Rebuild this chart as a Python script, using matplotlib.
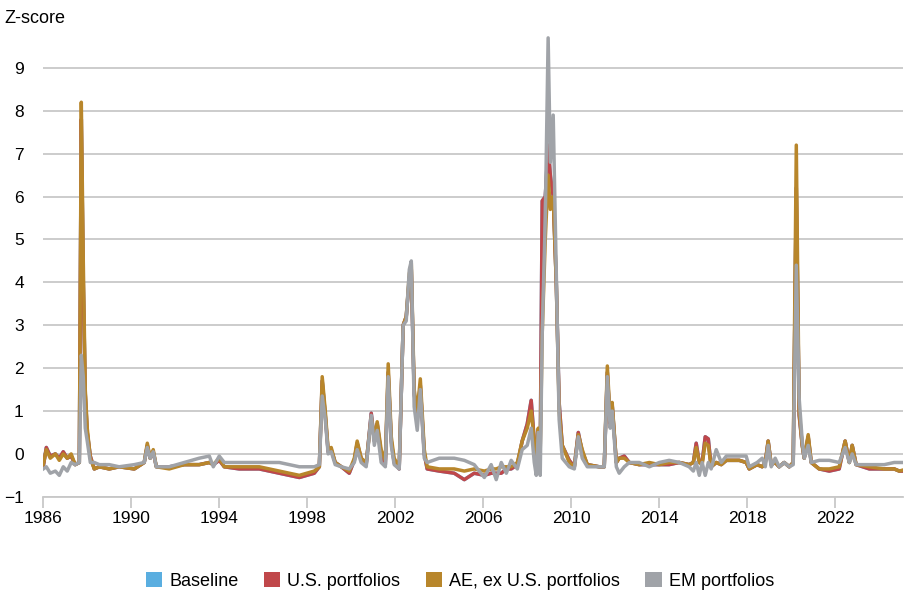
import matplotlib.pyplot as plt
from matplotlib.patches import Patch

plt.rcParams["font.family"] = ["Liberation Sans", "DejaVu Sans"]

# decimal years of readings
dates = [1986.00, 1986.14, 1986.32, 1986.55, 1986.73, 1986.91, 1987.09, 1987.27, 1987.45, 1987.64,
         1987.73, 1987.82, 1987.91, 1988.00, 1988.14, 1988.32, 1988.55, 1989.00, 1989.45, 1990.14,
         1990.59, 1990.73, 1990.86, 1991.00, 1991.14, 1991.73, 1992.41, 1993.09, 1993.55, 1993.73,
         1994.00, 1994.23, 1994.91, 1995.82, 1996.73, 1997.64, 1998.32, 1998.55, 1998.68, 1998.82,
         1998.95, 1999.09, 1999.27, 1999.55, 1999.91, 2000.14, 2000.27, 2000.45, 2000.68, 2000.91,
         2001.05, 2001.18, 2001.36, 2001.55, 2001.68, 2001.82, 2001.95, 2002.18, 2002.36, 2002.50,
         2002.64, 2002.73, 2002.86, 2003.00, 2003.14, 2003.32, 2003.45, 2004.00, 2004.68, 2005.14,
         2005.59, 2006.05, 2006.36, 2006.59, 2006.82, 2007.05, 2007.27, 2007.55, 2007.77, 2008.00,
         2008.18, 2008.32, 2008.41, 2008.50, 2008.59, 2008.68, 2008.82, 2008.95, 2009.05, 2009.18,
         2009.32, 2009.45, 2009.59, 2009.91, 2010.14, 2010.32, 2010.50, 2010.73, 2011.27, 2011.50,
         2011.64, 2011.77, 2011.86, 2012.05, 2012.18, 2012.41, 2012.64, 2013.09, 2013.55, 2014.00,
         2014.45, 2014.91, 2015.36, 2015.55, 2015.68, 2015.82, 2015.95, 2016.09, 2016.23, 2016.36,
         2016.59, 2016.82, 2017.05, 2017.64, 2017.95, 2018.09, 2018.45, 2018.68, 2018.82, 2018.95,
         2019.09, 2019.27, 2019.45, 2019.68, 2019.91, 2020.09, 2020.23, 2020.36, 2020.50, 2020.59,
         2020.77, 2020.91, 2021.27, 2021.73, 2022.18, 2022.45, 2022.64, 2022.77, 2022.95, 2023.55,
         2024.23, 2024.68, 2024.91, 2025.05]

ae = [-0.25, 0.1, -0.1, 0.0, -0.15, 0.0, -0.1, 0.0, -0.25, -0.2,
      8.2, 4.5, 1.5, 0.6, -0.1, -0.35, -0.3, -0.35, -0.3, -0.35,
      -0.2, 0.25, -0.1, 0.1, -0.3, -0.35, -0.25, -0.25, -0.2, -0.25,
      -0.1, -0.3, -0.3, -0.3, -0.4, -0.5, -0.4, -0.3, 1.8, 1.0,
      0.1, 0.15, -0.2, -0.3, -0.4, -0.1, 0.3, -0.1, -0.2, 0.85,
      0.35, 0.75, 0.1, -0.15, 2.1, 0.4, -0.1, -0.3, 3.0, 3.2,
      4.2, 4.45, 1.5, 1.0, 1.75, 0.1, -0.3, -0.35, -0.35, -0.4,
      -0.35, -0.4, -0.35, -0.35, -0.3, -0.3, -0.3, -0.2, 0.3, 0.6,
      1.0, 0.3, -0.2, 0.6, 0.1, 2.8, 5.0, 6.5, 5.7, 6.0,
      4.0, 1.0, 0.2, -0.2, -0.3, 0.45, 0.1, -0.25, -0.3, -0.3,
      2.05, 0.8, 1.2, -0.2, -0.1, -0.1, -0.2, -0.25, -0.2, -0.25,
      -0.2, -0.2, -0.25, -0.2, 0.15, -0.2, -0.25, 0.25, 0.2, -0.3,
      -0.2, -0.25, -0.15, -0.15, -0.2, -0.35, -0.25, -0.3, -0.2, 0.3,
      -0.25, -0.2, -0.3, -0.2, -0.3, -0.2, 7.2, 1.0, 0.2, -0.1,
      0.45, -0.2, -0.35, -0.35, -0.3, 0.3, -0.2, 0.2, -0.25, -0.3,
      -0.35, -0.35, -0.4, -0.38]

us = [-0.3, 0.15, -0.05, 0.0, -0.1, 0.05, -0.1, -0.05, -0.25, -0.2,
      7.8, 4.0, 1.4, 0.5, -0.05, -0.35, -0.3, -0.35, -0.3, -0.35,
      -0.2, 0.2, -0.1, 0.05, -0.3, -0.3, -0.25, -0.25, -0.2, -0.25,
      -0.15, -0.3, -0.35, -0.35, -0.45, -0.55, -0.45, -0.3, 1.7, 0.9,
      0.05, 0.1, -0.2, -0.3, -0.45, -0.15, 0.25, -0.1, -0.25, 0.95,
      0.3, 0.7, 0.0, -0.25, 1.9, 0.3, -0.2, -0.35, 3.0, 3.2,
      4.1, 4.3, 1.4, 0.9, 1.6, 0.0, -0.35, -0.4, -0.45, -0.6,
      -0.45, -0.5, -0.45, -0.45, -0.45, -0.35, -0.35, -0.25, 0.3, 0.7,
      1.25, 0.3, -0.1, 0.55, 0.0, 5.9, 6.0, 7.2, 6.5, 6.0,
      4.0, 1.2, 0.2, -0.15, -0.3, 0.5, 0.05, -0.25, -0.3, -0.3,
      1.9, 0.7, 1.15, -0.2, -0.1, -0.05, -0.2, -0.25, -0.25, -0.25,
      -0.25, -0.2, -0.25, -0.2, 0.25, -0.2, -0.2, 0.4, 0.35, -0.3,
      -0.2, -0.25, -0.15, -0.15, -0.2, -0.35, -0.25, -0.3, -0.2, 0.3,
      -0.25, -0.2, -0.3, -0.2, -0.3, -0.2, 6.2, 0.9, 0.2, -0.1,
      0.4, -0.2, -0.35, -0.4, -0.35, 0.3, -0.2, 0.2, -0.25, -0.35,
      -0.35, -0.35, -0.4, -0.4]

baseline = list(us)

em = [-0.35, -0.3, -0.45, -0.4, -0.5, -0.3, -0.4, -0.2, -0.25, -0.2,
      2.3, 1.8, 0.6, 0.3, -0.2, -0.2, -0.25, -0.25, -0.3, -0.25,
      -0.2, 0.15, -0.1, 0.05, -0.3, -0.3, -0.2, -0.1, -0.05, -0.3,
      -0.05, -0.2, -0.2, -0.2, -0.2, -0.3, -0.3, -0.25, 1.35, 0.8,
      0.0, 0.05, -0.25, -0.3, -0.35, -0.2, 0.1, -0.2, -0.3, 0.9,
      0.2, 0.55, -0.2, -0.3, 1.8, 0.2, -0.25, -0.35, 3.0, 3.1,
      4.3, 4.5, 1.1, 0.55, 1.5, -0.1, -0.2, -0.1, -0.1, -0.15,
      -0.25, -0.55, -0.25, -0.6, -0.2, -0.45, -0.15, -0.35, 0.1, 0.2,
      0.6, -0.2, -0.5, 0.5, -0.5, 2.8, 5.5, 9.7, 6.8, 7.9,
      4.2, 0.8, -0.1, -0.3, -0.35, 0.4, -0.1, -0.3, -0.3, -0.3,
      1.8, 0.6, 1.0, -0.3, -0.45, -0.3, -0.2, -0.2, -0.3, -0.2,
      -0.15, -0.2, -0.3, -0.4, -0.2, -0.5, -0.2, -0.5, -0.2, -0.35,
      0.1, -0.2, -0.05, -0.05, -0.05, -0.3, -0.2, -0.1, -0.3, 0.2,
      -0.3, -0.1, -0.3, -0.2, -0.3, -0.25, 4.4, 1.3, 0.3, -0.1,
      0.2, -0.2, -0.15, -0.15, -0.2, 0.15, -0.2, 0.0, -0.25, -0.25,
      -0.25, -0.2, -0.2, -0.2]

labels = ["Baseline", "U.S. portfolios", "AE, ex U.S. portfolios", "EM portfolios"]
colors = ["#5AAEE0", "#C0474A", "#B8862B", "#A0A3A8"]
year_ticks = list(range(1986, 2025, 4))

fig = plt.figure(figsize=(9.2, 6), dpi=100)
ax = fig.add_axes([0.047, 0.172, 0.935, 0.772])

for vals, c in zip([baseline, us, ae, em], colors):
    ax.plot(dates, vals, color=c, linewidth=2.5, solid_joinstyle="round")

ax.set_xlim(1986, 2025.1)
ax.set_ylim(-1, 9.8)
ax.set_yticks(range(-1, 10))
ax.set_xticks(year_ticks)
ax.set_xticklabels([str(y) for y in year_ticks])
ax.grid(axis="y", color="#C8C8C8", linewidth=1.3)
ax.set_axisbelow(True)
for s in ["top", "right", "left"]:
    ax.spines[s].set_visible(False)
ax.spines["bottom"].set_color("#C8C8C8")
ax.spines["bottom"].set_linewidth(1.3)
ax.tick_params(axis="y", length=0, labelsize=12.5, pad=14)
ax.tick_params(axis="x", length=8, width=1.3, color="#C8C8C8", labelsize=12.5, pad=2)
fig.text(0.005, 0.955, "Z-score", fontsize=13, va="bottom")

handles = [Patch(facecolor=c, edgecolor="none") for c in colors]
fig.legend(handles, labels, loc="lower center", bbox_to_anchor=(0.5, -0.01), ncol=4,
           frameon=False, fontsize=13, handlelength=0.9, handleheight=0.9,
           handletextpad=0.4, columnspacing=1.4)

fig.savefig("out.png", dpi=100)
